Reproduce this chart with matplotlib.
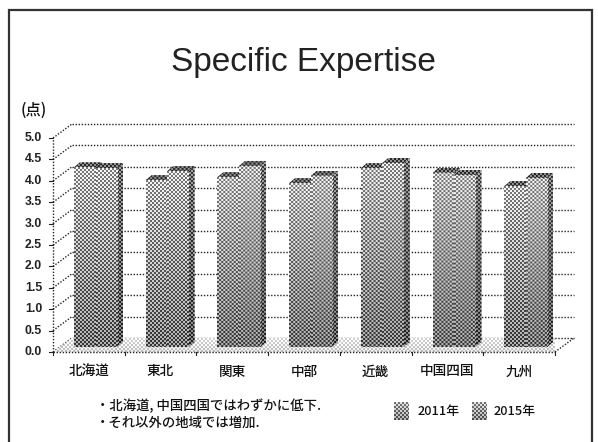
import numpy as np
import matplotlib
matplotlib.use("Agg")
import matplotlib.pyplot as plt
from matplotlib.patches import Polygon

W, H = 598, 442
JP = ['Noto Sans CJK JP', 'DejaVu Sans']

categories = ['北海道', '東北', '関東', '中部', '近畿', '中国四国', '九州']
values_2011 = [4.20, 3.90, 3.97, 3.83, 4.18, 4.07, 3.76]
values_2015 = [4.18, 4.11, 4.23, 4.00, 4.30, 4.02, 3.95]
y_ticks = [0.0, 0.5, 1.0, 1.5, 2.0, 2.5, 3.0, 3.5, 4.0, 4.5, 5.0]
series_names = ['2011年', '2015年']
title = 'Specific Expertise'
notes = ['・北海道, 中国四国ではわずかに低下.', '・それ以外の地域では増加.']

fig = plt.figure(figsize=(W / 100, H / 100), dpi=100, facecolor='white')
# plot box: x 0..7 spans px 53..555, y 0..5 spans px 352..138
ax = fig.add_axes([53 / W, 1 - 352 / H, (555 - 53) / W, (352 - 138) / H])
ax.set_axis_off()
PXX = 7 / (555 - 53)
PXY = 5 / (352 - 138)
DX, DY = 19 * PXX, 14 * PXY          # wall depth
INX, INY = 21 * PXX, 5 * PXY         # bar base inset
BW = 21.5 * PXX
SX, SY = 6 * PXX, 5 * PXY            # bar depth


def texture(x0, x1, y0, y1, light, dark, amp, cell=2):
    """Halftone raster with a vertical tone ramp, one cell per output pixel."""
    nx = max(2, int(round((x1 - x0) / PXX)))
    ny = max(2, int(round((y1 - y0) / PXY)))
    yy, xx = np.mgrid[0:ny, 0:nx]
    ramp = np.linspace(light, dark, ny)[:, None]
    chk = (((xx // cell) + (yy // cell)) % 2) * 2 - 1
    return ax.imshow(np.clip(ramp + amp * chk, 0, 1), cmap='gray', vmin=0, vmax=1,
                     extent=(x0, x1, y0, y1), origin='upper', aspect='auto',
                     interpolation='bilinear', zorder=3)


def textured_poly(pts, light, dark, amp, z, cell=2):
    poly = Polygon(pts, closed=True, facecolor='none', edgecolor='none',
                   transform=ax.transData)
    ax.add_patch(poly)
    xs, ys = zip(*pts)
    im = texture(min(xs), max(xs), min(ys), max(ys), light, dark, amp, cell)
    im.set_clip_path(poly)
    im.set_zorder(z)


dot = dict(color='#222222', lw=1.0, linestyle=(0, (1, 1.2)), clip_on=False)
# back wall gridlines, side wall diagonals
for t in y_ticks:
    ax.plot([DX, 7 + DX], [t + DY, t + DY], zorder=1, **dot)
    ax.plot([0, DX], [t, t + DY], zorder=1, **dot)
    ax.plot([-4 * PXX, 0], [t, t], zorder=1, color='#222222', lw=0.8, clip_on=False)
ax.plot([0, 0], [0, 5], zorder=2, **dot)
ax.plot([0, 7], [0, 0], zorder=6, **dot)
ax.plot([7, 7 + DX], [0, DY], zorder=1, **dot)
for i in range(8):
    ax.plot([i, i], [0, -3 * PXY], color='#222222', lw=0.8, zorder=6, clip_on=False)

# floor
textured_poly([(0, 0), (7, 0), (7 + DX, DY), (DX, DY)], 0.92, 0.84, 0.10, 1.5)

# bars: 2011 first, the 2015 front face covers its side
x = np.arange(len(categories))
left = x + INX
for n, (vals, off) in enumerate(((values_2011, 0), (values_2015, BW))):
    for xi, v in zip(left + off, vals):
        b = INY
        z = 3 + n
        side = [(xi + BW, b), (xi + BW + SX, b + SY), (xi + BW + SX, b + v + SY), (xi + BW, b + v)]
        top = [(xi, b + v), (xi + BW, b + v), (xi + BW + SX, b + v + SY), (xi + SX, b + v + SY)]
        textured_poly(side, 0.42, 0.34, 0.22, z)
        textured_poly(top, 0.36, 0.36, 0.20, z)
        ax.bar(xi, v, BW, bottom=b, align='edge', color='none', zorder=z + 0.1)
        textured_poly([(xi, b), (xi + BW + 0.5 * PXX, b), (xi + BW + 0.5 * PXX, b + v), (xi, b + v)],
                      0.72, 0.45, 0.25, z + 0.1)

ax.set_xlim(0, 7)
ax.set_ylim(0, 5)

# y tick labels
for t in y_ticks:
    ax.text(-11 * PXX, t, f'{t:.1f}', ha='right', va='center', fontsize=8.8,
            family='Liberation Sans', weight='bold', color='#222222', clip_on=False)
# category labels
for i, c in zip(x, categories):
    ax.text(i + 0.5, -19.5 * PXY, c, ha='center', va='center', fontsize=9.8,
            family=JP, weight='medium', color='#111111', clip_on=False)

fx = lambda p: p / W
fy = lambda p: 1 - p / H
fig.text(fx(303), fy(63), title, ha='center', va='center', fontsize=24,
         family='Liberation Sans', color='#222222')
fig.text(fx(34), fy(110), '(点)', ha='center', va='center', fontsize=11, family=JP,
         weight='medium', color='#111111')
fig.text(fx(96), fy(406), notes[0], ha='left', va='center', fontsize=9.6, family=JP,
         weight='medium', color='#111111')
fig.text(fx(96), fy(423), notes[1], ha='left', va='center', fontsize=9.6, family=JP,
         weight='medium', color='#111111')

# legend
overlay = fig.add_axes([0, 0, 1, 1], facecolor='none')
overlay.set_axis_off()
for sx, tx, name in zip((394, 472), (418, 494), series_names):
    yy, xx = np.mgrid[0:18, 0:15]
    chk = ((xx // 2 + yy // 2) % 2) * 2 - 1
    img = np.linspace(0.68, 0.5, 18)[:, None] + 0.22 * chk
    overlay.imshow(img, cmap='gray', vmin=0, vmax=1, extent=(sx, sx + 15, 420, 402),
                   aspect='auto', interpolation='bilinear')
    overlay.text(tx, 411, name, ha='left', va='center', fontsize=9.2, family=JP,
                 weight='medium', color='#111111')

# slide frame, open at the bottom
overlay.plot([8.5, 8.5, 591.5, 591.5], [H, 9.5, 9.5, H], color='#333333', lw=1.6,
             solid_joinstyle='miter')
overlay.set_xlim(0, W)
overlay.set_ylim(H, 0)

fig.savefig('out.png', dpi=100, facecolor='white')
